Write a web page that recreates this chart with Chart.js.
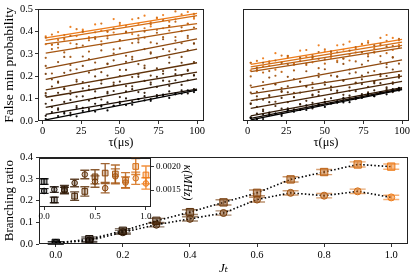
<!DOCTYPE html>
<html><head><meta charset="utf-8">
<script src="https://cdn.jsdelivr.net/npm/chart.js@4.4.1/dist/chart.umd.min.js"></script>
<style>
html,body{margin:0;padding:0;background:#fff;width:415px;height:280px;overflow:hidden;position:relative;}
canvas{position:absolute;}
</style></head><body>
<canvas id="cTL" width="210" height="150" style="left:0;top:0"></canvas>
<canvas id="cTR" width="205" height="150" style="left:210px;top:0"></canvas>
<canvas id="cB" width="415" height="132" style="left:0;top:148px"></canvas>
<canvas id="cI" width="165" height="72" style="left:30px;top:150px"></canvas>
<script>
// ---------- data ----------
const tau = [2,6,10,14,18,22,26,30,34,38,42,46,50,54,58,62,66,70,74,78,82,86,90,94,98];
const tauFit = [2,100];
const tauTicks = [0,25,50,75,100];
const probTicks = [0,0.1,0.2,0.3,0.4,0.5];

const leftFitStart = [0.005,0.030,0.061,0.106,0.139,0.186,0.235,0.303,0.344,0.360,0.371];
const leftFitEnd   = [0.138,0.142,0.188,0.218,0.260,0.321,0.367,0.412,0.435,0.470,0.480];
const rightFitStart = [0.005,0.012,0.023,0.056,0.091,0.121,0.149,0.220,0.232,0.242,0.253];
const rightFitEnd   = [0.140,0.144,0.149,0.177,0.200,0.224,0.273,0.326,0.338,0.352,0.364];

const L0 = [0.009,0.000,0.022,0.033,0.025,0.021,0.045,0.044,0.042,0.065,0.047,0.067,0.078,0.071,0.073,0.098,0.092,0.090,0.108,0.118,0.103,0.123,0.122,0.137,0.129];
const L1 = [0.023,0.040,0.050,0.040,0.036,0.059,0.059,0.054,0.077,0.070,0.083,0.069,0.086,0.101,0.088,0.097,0.111,0.098,0.116,0.112,0.132,0.119,0.137,0.123,0.142];
const L2 = [0.077,0.062,0.057,0.085,0.094,0.067,0.110,0.091,0.103,0.096,0.123,0.134,0.107,0.132,0.142,0.129,0.126,0.163,0.152,0.180,0.157,0.182,0.161,0.182,0.203];
const L3 = [0.113,0.093,0.126,0.142,0.120,0.109,0.146,0.140,0.132,0.167,0.130,0.160,0.176,0.156,0.155,0.197,0.179,0.171,0.197,0.211,0.177,0.209,0.203,0.224,0.205];
const L4 = [0.124,0.154,0.171,0.146,0.134,0.176,0.174,0.156,0.199,0.181,0.203,0.171,0.201,0.228,0.196,0.208,0.236,0.203,0.235,0.223,0.260,0.228,0.260,0.228,0.263];
const L5 = [0.210,0.186,0.176,0.215,0.226,0.184,0.246,0.216,0.230,0.218,0.256,0.271,0.228,0.264,0.275,0.254,0.247,0.301,0.282,0.321,0.284,0.320,0.286,0.316,0.345];
const L6 = [0.246,0.212,0.263,0.286,0.250,0.231,0.288,0.276,0.261,0.315,0.254,0.301,0.324,0.291,0.286,0.351,0.321,0.306,0.346,0.365,0.311,0.359,0.347,0.380,0.347];
const L7 = [0.282,0.321,0.343,0.306,0.286,0.343,0.337,0.310,0.367,0.340,0.369,0.320,0.360,0.396,0.348,0.363,0.399,0.351,0.394,0.374,0.424,0.375,0.418,0.370,0.417];
const L8 = [0.372,0.341,0.327,0.369,0.380,0.328,0.398,0.360,0.374,0.356,0.399,0.413,0.361,0.399,0.410,0.382,0.372,0.432,0.407,0.450,0.404,0.443,0.401,0.433,0.465];
const L9 = [0.343,0.386,0.362,0.384,0.347,0.410,0.401,0.370,0.396,0.435,0.380,0.395,0.438,0.425,0.388,0.459,0.414,0.440,0.462,0.414,0.443,0.489,0.476,0.435,0.478];
const L10 = [0.378,0.340,0.397,0.363,0.420,0.379,0.408,0.374,0.431,0.404,0.398,0.455,0.428,0.397,0.454,0.434,0.470,0.422,0.458,0.473,0.425,0.454,0.500,0.487,0.457];

const R0 = [0.013,0.009,0.009,0.026,0.033,0.023,0.047,0.041,0.049,0.049,0.065,0.074,0.063,0.079,0.086,0.083,0.084,0.106,0.103,0.120,0.111,0.127,0.119,0.133,0.146];
const R1 = [0.015,0.009,0.028,0.038,0.032,0.030,0.050,0.051,0.050,0.070,0.056,0.073,0.084,0.078,0.081,0.103,0.098,0.098,0.113,0.122,0.111,0.128,0.129,0.142,0.136];
const R2 = [0.016,0.033,0.044,0.034,0.032,0.055,0.056,0.051,0.074,0.068,0.081,0.069,0.086,0.102,0.089,0.098,0.113,0.100,0.120,0.116,0.137,0.124,0.142,0.129,0.148];
const R3 = [0.076,0.063,0.051,0.084,0.067,0.103,0.084,0.106,0.076,0.090,0.114,0.114,0.097,0.138,0.136,0.117,0.135,0.133,0.165,0.128,0.168,0.169,0.150,0.166,0.193];
const R4 = [0.079,0.110,0.095,0.112,0.086,0.133,0.128,0.107,0.127,0.156,0.118,0.130,0.162,0.154,0.128,0.180,0.150,0.169,0.186,0.153,0.175,0.209,0.201,0.173,0.205];
const R5 = [0.127,0.095,0.144,0.116,0.165,0.130,0.155,0.126,0.176,0.153,0.148,0.197,0.174,0.149,0.198,0.181,0.212,0.171,0.203,0.216,0.175,0.200,0.240,0.230,0.204];
const R6 = [0.158,0.130,0.174,0.194,0.163,0.147,0.197,0.187,0.175,0.222,0.170,0.211,0.231,0.203,0.199,0.255,0.230,0.217,0.252,0.269,0.223,0.264,0.254,0.283,0.256];
const R7 = [0.199,0.238,0.260,0.223,0.202,0.259,0.253,0.226,0.283,0.256,0.284,0.236,0.275,0.311,0.263,0.278,0.314,0.266,0.308,0.288,0.338,0.290,0.333,0.285,0.331];
const R8 = [0.260,0.229,0.216,0.259,0.270,0.219,0.290,0.252,0.267,0.250,0.293,0.308,0.256,0.295,0.307,0.279,0.270,0.330,0.306,0.349,0.305,0.344,0.303,0.335,0.367];
const R9 = [0.225,0.268,0.244,0.266,0.229,0.292,0.283,0.252,0.278,0.317,0.262,0.277,0.320,0.307,0.270,0.341,0.296,0.322,0.344,0.296,0.325,0.371,0.358,0.317,0.360];
const R10 = [0.260,0.223,0.280,0.246,0.303,0.262,0.291,0.257,0.314,0.287,0.281,0.338,0.311,0.281,0.338,0.318,0.354,0.306,0.342,0.357,0.309,0.338,0.384,0.371,0.341];

const Jt = [0,0.1,0.2,0.3,0.4,0.5,0.6,0.7,0.8,0.9,1.0];
const jtTicks = [0,0.2,0.4,0.6,0.8,1.0];
const branchTicks = [0,0.1,0.2,0.3,0.4];
const branchSq = [0.005,0.022,0.061,0.107,0.147,0.192,0.236,0.298,0.332,0.367,0.357];
const branchCi = [0.005,0.016,0.054,0.089,0.116,0.143,0.205,0.236,0.223,0.243,0.215];
const branchSqErr = [0.006,0.010,0.010,0.011,0.011,0.012,0.013,0.012,0.012,0.012,0.012];
const branchCiErr = [0.005,0.008,0.009,0.010,0.010,0.010,0.011,0.010,0.010,0.010,0.010];

const insetXTicks = [0,0.5,1.0];
const kappaTicks = [0.0015,0.0020];
const kappaSq = [0.00168,0.00129,0.00152,0.00137,0.00147,0.00178,0.00186,0.00184,0.00171,0.00200,0.00182];
const kappaCi = [0.00148,0.00151,0.00149,0.00165,0.00183,0.00168,0.00154,0.00179,0.00166,0.00175,0.00164];
const kappaSqErr = [0.00006,0.00006,0.00008,0.00009,0.00010,0.00015,0.00020,0.00019,0.00016,0.00017,0.00019];
const kappaCiErr = [0.00005,0.00006,0.00007,0.00008,0.00009,0.00012,0.00010,0.00016,0.00012,0.00013,0.00012];

// ---------- style helpers ----------
Chart.defaults.font.family = "'Liberation Serif', 'DejaVu Serif', serif";
Chart.defaults.color = '#000';
function cmap(t, a) {
  return 'rgba(' + Math.round(238*t) + ',' + Math.round(124*t) + ',' + Math.round(26*t) + ',' + a + ')';
}
const framePlugin = {
  id: 'frame',
  beforeDraw(chart, args, opts) {
    if (opts && opts.bg) {
      const a = chart.chartArea, ctx = chart.ctx;
      ctx.save(); ctx.fillStyle = '#fff';
      ctx.fillRect(a.left, a.top, a.right - a.left, a.bottom - a.top);
      ctx.restore();
    }
  },
  afterDraw(chart) {
    const a = chart.chartArea, ctx = chart.ctx;
    ctx.save(); ctx.strokeStyle = '#222'; ctx.lineWidth = 1;
    const l = Math.round(a.left) + 0.5, t = Math.round(a.top) + 0.5;
    const r = Math.round(a.right) - 0.5, b = Math.round(a.bottom) - 0.5;
    ctx.strokeRect(l, t, r - l, b - t);
    ctx.restore();
  }
};
const errPlugin = {
  id: 'err',
  beforeDatasetsDraw(chart) {
    const ctx = chart.ctx, xs = chart.scales.x, ys = chart.scales.y;
    ctx.save();
    chart.data.datasets.forEach(ds => {
      if (!ds.errors) return;
      ds.data.forEach((p, j) => {
        const x = xs.getPixelForValue(p.x);
        const y0 = ys.getPixelForValue(p.y - ds.errors[j]);
        const y1 = ys.getPixelForValue(p.y + ds.errors[j]);
        ctx.strokeStyle = ds.errColors[j];
        ctx.lineWidth = ds.errWidth;
        ctx.beginPath();
        ctx.moveTo(x, y0); ctx.lineTo(x, y1);
        ctx.moveTo(x - ds.capHalf, y0); ctx.lineTo(x + ds.capHalf, y0);
        ctx.moveTo(x - ds.capHalf, y1); ctx.lineTo(x + ds.capHalf, y1);
        ctx.stroke();
      });
    });
    ctx.restore();
  }
};
function setTicks(vals) { return s => { s.ticks = vals.map(v => ({value: v})); }; }
const tickGrid = {drawOnChartArea: false, drawTicks: true, tickLength: 3, tickColor: '#000', tickWidth: 0.8};

// ---------- top panels ----------
function topChart(id, series, fs, fe, showY) {
  const datasets = [];
  series.forEach((vals, i) => {
    const t = i / 10;
    datasets.push({
      type: 'line', showLine: true,
      data: tauFit.map((x, k) => ({x: x, y: k === 0 ? fs[i] : fe[i]})),
      borderColor: cmap(t, 1), borderWidth: 1.3, pointRadius: 0, fill: false
    });
    datasets.push({
      type: 'scatter',
      data: tau.map((x, k) => ({x: x, y: vals[k]})),
      backgroundColor: cmap(t, 0.95), borderWidth: 0, pointRadius: 1.1
    });
  });
  return new Chart(document.getElementById(id), {
    type: 'scatter',
    data: {datasets},
    options: {
      responsive: false, animation: false, devicePixelRatio: 1,
      layout: {padding: {top: 9, right: 6, left: 0, bottom: 0}},
      plugins: {legend: {display: false}, tooltip: {enabled: false}},
      scales: {
        x: {
          type: 'linear', min: -3, max: 104.5,
          afterBuildTicks: setTicks(tauTicks), afterFit: s => { s.height = 29; },
          grid: tickGrid, border: {display: false},
          ticks: {padding: 1, font: {size: 10.5}, maxRotation: 0, autoSkip: false, callback: v => String(v)},
          title: {display: true, text: 'τ(μs)', font: {size: 12.5}, padding: {top: 0, bottom: 0}}
        },
        y: {
          type: 'linear', min: 0, max: 0.5,
          afterBuildTicks: setTicks(probTicks), afterFit: s => { s.width = showY ? 38 : 33; },
          grid: showY ? tickGrid : {drawOnChartArea: false, drawTicks: false},
          border: {display: false},
          ticks: {display: showY, padding: 2, font: {size: 10.5}, autoSkip: false, callback: v => v.toFixed(1)},
          title: {display: showY, text: 'False min probability', font: {size: 13.5}, padding: {top: 1, bottom: 0}}
        }
      }
    },
    plugins: [framePlugin]
  });
}
topChart('cTL', [L0,L1,L2,L3,L4,L5,L6,L7,L8,L9,L10], leftFitStart, leftFitEnd, true);
topChart('cTR', [R0,R1,R2,R3,R4,R5,R6,R7,R8,R9,R10], rightFitStart, rightFitEnd, false);

// ---------- bottom main ----------
function markerSet(vals, errs, style, radius, errAlpha, capHalf) {
  return {
    type: 'line', showLine: true,
    data: Jt.map((x, k) => ({x: x, y: vals[k]})),
    borderColor: '#000', borderWidth: 1.6, borderDash: [1.5, 2.2],
    pointStyle: style, pointRadius: radius,
    pointBackgroundColor: Jt.map(t => cmap(t, 0.5)),
    pointBorderColor: Jt.map(t => cmap(t, 1)), pointBorderWidth: 1,
    errors: errs, errColors: Jt.map(t => cmap(t, errAlpha)), errWidth: 1.4, capHalf: capHalf
  };
}
new Chart(document.getElementById('cB'), {
  type: 'line',
  data: {datasets: [
    markerSet(branchSq, branchSqErr, 'rect', 5.2, 0.6, 8),
    markerSet(branchCi, branchCiErr, 'circle', 3.5, 0.6, 8)
  ]},
  options: {
    responsive: false, animation: false, devicePixelRatio: 1,
    layout: {padding: {top: 9, right: 7, left: 0, bottom: 0}},
    plugins: {legend: {display: false}, tooltip: {enabled: false}},
    scales: {
      x: {
        type: 'linear', min: -0.05, max: 1.05,
        afterBuildTicks: setTicks(jtTicks), afterFit: s => { s.height = 36; },
        grid: tickGrid, border: {display: false},
        ticks: {padding: 2, font: {size: 10.5}, maxRotation: 0, autoSkip: false, callback: v => v.toFixed(1)},
        title: {display: true, text: 'Jₜ', font: {size: 13, style: 'italic'}, padding: {top: 0, bottom: 4}}
      },
      y: {
        type: 'linear', min: 0, max: 0.4,
        afterBuildTicks: setTicks(branchTicks), afterFit: s => { s.width = 39; },
        grid: tickGrid, border: {display: false},
        ticks: {padding: 3, font: {size: 10.5}, autoSkip: false, callback: v => v.toFixed(1)},
        title: {display: true, text: 'Branching ratio', font: {size: 13}, padding: {top: 2, bottom: 0}}
      }
    }
  },
  plugins: [framePlugin, errPlugin]
});

// ---------- inset ----------
function insetSet(vals, errs, style, radius) {
  return {
    type: 'scatter',
    data: Jt.map((x, k) => ({x: x, y: vals[k]})),
    pointStyle: style, pointRadius: radius,
    pointBackgroundColor: Jt.map(t => cmap(t, 0.3)),
    pointBorderColor: Jt.map(t => cmap(t, 1)), pointBorderWidth: 1,
    errors: errs, errColors: Jt.map(t => cmap(t, 0.85)), errWidth: 1.4, capHalf: 4.5
  };
}
new Chart(document.getElementById('cI'), {
  type: 'scatter',
  data: {datasets: [
    insetSet(kappaSq, kappaSqErr, 'rect', 4),
    insetSet(kappaCi, kappaCiErr, 'circle', 2.8)
  ]},
  options: {
    responsive: false, animation: false, devicePixelRatio: 1,
    layout: {padding: {top: 8, right: 0, left: 9, bottom: 0}},
    plugins: {legend: {display: false}, tooltip: {enabled: false}, frame: {bg: true}},
    scales: {
      x: {
        type: 'linear', position: 'bottom', min: -0.05, max: 1.05,
        afterBuildTicks: setTicks(insetXTicks), afterFit: s => { s.height = 15; },
        grid: tickGrid, border: {display: false},
        ticks: {padding: 1, font: {size: 9}, maxRotation: 0, autoSkip: false, callback: v => v.toFixed(1)},
        title: {display: false}
      },
      y: {
        type: 'linear', position: 'right', min: 0.00114, max: 0.00218,
        afterBuildTicks: setTicks(kappaTicks), afterFit: s => { s.width = 44; },
        grid: tickGrid, border: {display: false},
        ticks: {padding: 2, font: {size: 9}, autoSkip: false, callback: v => v.toFixed(4)},
        title: {display: true, text: 'κ(MHz)', font: {size: 11.5, style: 'italic'}, padding: {top: 1, bottom: 0}}
      }
    }
  },
  plugins: [framePlugin, errPlugin]
});
</script>
</body></html>
